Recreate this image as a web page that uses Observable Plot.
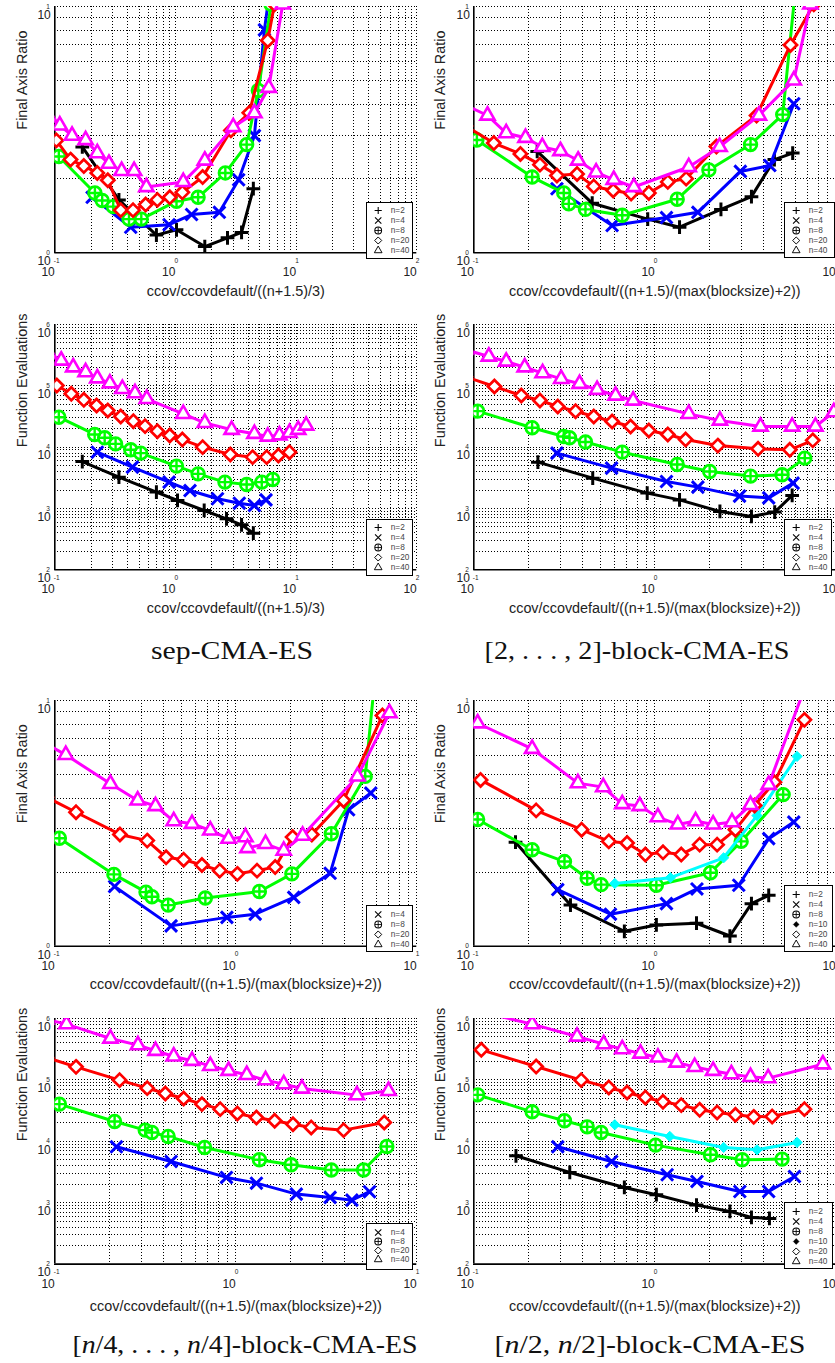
<!DOCTYPE html>
<html><head><meta charset="utf-8">
<script src="https://cdn.jsdelivr.net/npm/d3@7"></script>
<script src="https://cdn.jsdelivr.net/npm/@observablehq/plot@0.6"></script>
<style>
body{margin:0;background:#fff;}
#root{position:relative;width:835px;height:1363px;overflow:hidden;background:#fff;font-family:"Liberation Sans",Arial,sans-serif;}
.panel{position:absolute;}
.legend{position:absolute;border:1.3px solid #000;background:#fff;box-sizing:border-box;}
.legend svg{display:block;}
</style></head><body><div id="root"></div>
<script>
// ---------------- data ----------------
const xLabelSep = "ccov/ccovdefault/((n+1.5)/3)";
const xLabelBlock = "ccov/ccovdefault/((n+1.5)/(max(blocksize)+2))";
const yLabelRatio = "Final Axis Ratio";
const yLabelEvals = "Function Evaluations";
const xExpWide = [-1, 0, 1, 2];
const xExpNarrow = [-1, 0, 1];
const yExpRatio = [0, 1];
const yExpEvals = [2, 3, 4, 5, 6];
const titleSep = [["sep-CMA-ES", false]];
const titleTwo = [["[2, . . . , 2]-block-CMA-ES", false]];
const titleQuarter = [["[", false], ["n", true], ["/4, . . . , ", false], ["n", true], ["/4]-block-CMA-ES", false]];
const titleHalf = [["[", false], ["n", true], ["/2, ", false], ["n", true], ["/2]-block-CMA-ES", false]];

// sep-CMA-ES, final axis ratio
const sepRatio_n2 = [[0.169,2.69],[0.340,1.64],[0.695,1.18],[1.02,1.24],[1.75,1.06],[2.70,1.15],[3.53,1.21],[4.42,1.82]];
const sepRatio_n4 = [[0.204,1.68],[0.426,1.27],[0.885,1.30],[1.36,1.43],[2.31,1.46],[3.34,1.98],[4.51,2.99],[5.46,8.04],[6.0,11.3]];
const sepRatio_n8 = [[0.108,2.46],[0.215,1.75],[0.247,1.63],[0.305,1.54],[0.412,1.37],[0.521,1.37],[1.02,1.62],[1.54,1.68],[2.59,2.11],[3.89,2.75],[4.86,4.56],[6.2,10.2]];
const sepRatio_n20 = [[0.103,2.86],[0.135,2.39],[0.174,2.25],[0.225,2.11],[0.275,1.97],[0.352,1.49],[0.445,1.49],[0.566,1.57],[0.708,1.64],[0.897,1.68],[1.14,1.76],[1.68,2.03],[2.88,3.14],[4.09,3.70],[5.82,7.28],[6.61,10.2]];
const sepRatio_n40 = [[0.09,3.55],[0.110,3.29],[0.139,2.99],[0.180,2.87],[0.225,2.54],[0.281,2.30],[0.358,2.15],[0.454,2.15],[0.574,1.85],[1.16,1.94],[1.75,2.37],[3.01,3.24],[4.51,3.69],[5.93,4.68],[7.74,10.2]];

// [2,...,2]-block, final axis ratio
const twoRatio_n2 = [[0.224,2.58],[0.451,1.59],[0.914,1.37],[1.37,1.27],[2.32,1.50],[3.42,1.69],[4.58,2.39],[5.78,2.54]];
const twoRatio_n4 = [[0.288,1.82],[0.581,1.29],[1.16,1.39],[1.73,1.46],[2.97,2.14],[4.32,2.26],[5.86,4.03]];
const twoRatio_n8 = [[0.104,2.87],[0.210,2.03],[0.314,1.75],[0.335,1.58],[0.414,1.50],[0.661,1.42],[1.33,1.65],[1.99,2.17],[3.38,2.75],[5.09,3.64],[6.0,12]];
const twoRatio_n20 = [[0.09,3.27],[0.129,2.79],[0.181,2.52],[0.232,2.28],[0.288,2.06],[0.372,2.09],[0.460,1.86],[0.589,1.79],[0.740,1.74],[0.927,1.75],[1.18,1.94],[1.49,2.00],[2.19,2.70],[3.65,3.61],[5.62,6.98],[7.56,10.2]];
const twoRatio_n40 = [[0.09,3.98],[0.119,3.61],[0.151,3.06],[0.193,2.93],[0.239,2.69],[0.301,2.59],[0.377,2.37],[0.474,2.12],[0.593,1.98],[0.766,1.85],[1.54,2.23],[2.28,2.69],[3.76,3.61],[5.86,5.01],[7.24,10.2]];

// sep-CMA-ES, function evaluations
const sepEvals_n2 = [[0.169,5830],[0.340,3240],[0.695,1850],[1.04,1350],[1.73,927],[2.65,679],[3.53,542],[4.42,396]];
const sepEvals_n4 = [[0.225,8280],[0.440,4720],[0.885,2690],[1.32,1960],[2.23,1440],[3.38,1220],[4.51,1120],[5.63,1380]];
const sepEvals_n8 = [[0.108,30800],[0.214,16100],[0.259,14200],[0.319,11300],[0.426,9050],[0.515,7980],[1.02,4900],[1.54,3670],[2.57,2690],[3.89,2460],[5.19,2690],[6.40,2970]];
const sepEvals_n20 = [[0.104,101000],[0.137,74100],[0.174,59100],[0.222,47800],[0.275,39600],[0.352,31600],[0.448,26500],[0.560,22000],[0.708,18200],[0.897,15500],[1.14,13300],[1.68,10000],[2.85,7590],[4.36,6870],[5.70,6870],[7.13,7310],[8.81,8280]];
const sepEvals_n40 = [[0.09,327000],[0.113,259000],[0.142,201000],[0.180,167000],[0.225,133000],[0.286,110000],[0.363,89300],[0.462,75900],[0.578,61400],[1.16,34900],[1.75,24900],[2.92,19200],[4.51,16500],[5.82,14900],[7.27,15600],[8.81,17100],[10.4,19200],[12.1,22500]];

// [2,...,2]-block, function evaluations
const twoEvals_n2 = [[0.226,5690],[0.454,3120],[0.908,1780],[1.37,1380],[2.29,893],[3.42,741],[4.60,872],[5.74,1630]];
const twoEvals_n4 = [[0.288,7980],[0.577,4550],[1.16,2750],[1.73,2230],[2.94,1590],[4.26,1490],[5.81,2590]];
const twoEvals_n8 = [[0.105,38600],[0.210,20700],[0.314,14900],[0.338,14200],[0.414,12100],[0.661,8280],[1.33,5210],[2.01,4010],[3.38,3370],[5.05,3540],[6.74,6620]];
const twoEvals_n20 = [[0.09,141000],[0.130,97500],[0.183,69500],[0.232,57700],[0.291,46000],[0.365,38600],[0.460,31600],[0.581,26200],[0.735,21700],[0.927,18700],[1.18,16100],[1.48,13300],[2.23,10600],[3.72,9390],[5.57,9050],[7.46,12900]];
const twoEvals_n40 = [[0.09,387000],[0.121,301000],[0.151,249000],[0.191,201000],[0.240,161000],[0.304,130000],[0.384,108000],[0.480,86100],[0.607,69500],[0.759,57700],[1.54,34900],[2.29,27200],[3.84,21700],[5.74,21700],[7.72,21700],[9.75,37200]];

// [n/4,...,n/4]-block, final axis ratio
const quarRatio_n4 = [[0.214,1.75],[0.439,1.21],[0.893,1.31],[1.28,1.35],[2.09,1.58],[3.32,1.98],[4.20,3.59],[5.57,4.20]];
const quarRatio_n8 = [[0.106,2.75],[0.212,1.96],[0.319,1.66],[0.344,1.59],[0.423,1.47],[0.679,1.57],[1.35,1.67],[2.04,1.97],[3.37,2.87],[5.19,4.91],[5.85,12]];
const quarRatio_n20 = [[0.09,4.04],[0.131,3.51],[0.229,2.85],[0.324,2.69],[0.412,2.30],[0.515,2.25],[0.650,2.14],[0.815,2.03],[1.02,1.97],[1.31,2.03],[1.65,2.10],[2.06,2.78],[2.63,2.85],[3.94,3.92],[6.46,8.69]];
const quarRatio_n40 = [[0.09,6.64],[0.115,6.01],[0.203,4.58],[0.287,3.92],[0.360,3.72],[0.454,3.23],[0.573,3.15],[0.723,2.96],[0.912,2.74],[1.13,2.78],[1.16,2.51],[1.46,2.61],[1.84,2.45],[2.34,2.82],[4.70,4.91],[7.06,8.88]];

// [n/2,n/2]-block, final axis ratio
const halfRatio_n2 = [[0.170,2.65],[0.342,1.47],[0.679,1.15],[1.02,1.22],[1.70,1.24],[2.60,1.10],[3.42,1.49],[4.26,1.61]];
const halfRatio_n4 = [[0.291,1.70],[0.569,1.35],[1.16,1.49],[1.71,1.71],[2.91,1.77],[4.26,2.74],[5.86,3.20]];
const halfRatio_n8 = [[0.105,3.28],[0.210,2.47],[0.317,2.21],[0.423,1.89],[0.505,1.78],[1.02,1.77],[2.03,1.99],[3.00,2.67],[5.12,4.14]];
const halfRatio_n10 = [[0.601,1.80],[1.22,1.90],[2.40,2.29],[3.67,3.40],[6.11,5.92]];
const halfRatio_n20 = [[0.109,4.75],[0.221,3.57],[0.394,2.98],[0.557,2.67],[0.703,2.63],[0.887,2.36],[1.11,2.41],[1.40,2.36],[1.77,2.59],[2.21,2.59],[2.79,2.98],[3.56,3.74],[4.58,4.65],[6.71,8.34]];
const halfRatio_n40 = [[0.105,8.08],[0.210,6.36],[0.376,4.61],[0.519,4.44],[0.661,3.79],[0.826,3.72],[1.04,3.35],[1.34,3.13],[1.68,3.23],[2.10,3.13],[2.67,3.20],[3.38,3.76],[4.26,4.54],[6.6,10.8]];

// [n/4,...,n/4]-block, function evaluations
const quarEvals_n4 = [[0.219,8130],[0.439,4690],[0.888,2580],[1.30,2080],[2.16,1380],[3.32,1220],[4.38,1100],[5.48,1510]];
const quarEvals_n8 = [[0.106,40300],[0.214,21000],[0.316,15200],[0.344,13900],[0.423,12000],[0.673,7940],[1.35,5000],[2.02,4140],[3.37,3400],[5.08,3400],[6.83,8240]];
const quarEvals_n20 = [[0.09,232000],[0.131,163000],[0.228,99100],[0.324,73400],[0.408,60100],[0.515,49800],[0.650,40300],[0.820,33400],[1.02,28400],[1.30,24400],[1.64,21600],[2.07,19000],[2.61,16800],[3.94,15200],[6.61,20300]];
const quarEvals_n40 = [[0.09,959000],[0.116,809000],[0.203,472000],[0.288,368000],[0.360,298000],[0.454,241000],[0.573,205000],[0.723,169000],[0.912,141000],[1.15,121000],[1.46,99100],[1.84,85300],[2.32,72400],[4.67,56500],[6.98,66400]];

// [n/2,n/2]-block, function evaluations
const halfEvals_n2 = [[0.171,5810],[0.339,3110],[0.679,1770],[1.02,1350],[1.70,914],[2.60,721],[3.42,575],[4.30,555]];
const halfEvals_n4 = [[0.291,8130],[0.577,4690],[1.17,2850],[1.71,2220],[2.95,1520],[4.26,1520],[5.91,2670]];
const halfEvals_n8 = [[0.105,57100],[0.210,30200],[0.317,21600],[0.423,17200],[0.505,13900],[1.01,8660],[2.03,6030],[3.04,5000],[5.05,5130]];
const halfEvals_n10 = [[0.601,18600],[1.21,12000],[2.40,7940],[3.67,7270],[6.11,9570]];
const halfEvals_n20 = [[0.110,309000],[0.221,165000],[0.392,99100],[0.557,75300],[0.703,62400],[0.887,51800],[1.11,44000],[1.40,38800],[1.77,32600],[2.21,29500],[2.79,27000],[3.52,25000],[4.45,25400],[6.71,33400]];
const halfEvals_n40 = [[0.10,1370000],[0.210,809000],[0.372,509000],[0.522,382000],[0.661,317000],[0.834,269000],[1.04,232000],[1.32,192000],[1.66,163000],[2.10,141000],[2.65,124000],[3.38,112000],[4.23,107000],[8.48,180000]];

// ---------------- styles ----------------
const STYLE = {
  2: {color: "#000000", sym: "plus"},
  4: {color: "#0000ff", sym: "times"},
  8: {color: "#00ff00", sym: "oplus"},
  10: {color: "#00ffff", sym: "fdiamond"},
  20: {color: "#ff0000", sym: "diamond"},
  40: {color: "#ff00ff", sym: "triangle"}
};
const FONT = "'Liberation Sans', Arial, Helvetica, sans-serif";

function symbolMarks(data, n, acc, big) {
  const st = STYLE[n];
  const col = big ? st.color : "#000";
  const f = big ? 1 : 0.54;
  const w = big ? 1 : 0.36;
  const hollow = big ? "white" : "none";
  const c = big ? {...acc, clip: true} : {...acc};
  switch (st.sym) {
    case "plus": return [Plot.dot(data, {...c, symbol: "plus", r: 4.5 * f, stroke: col, strokeWidth: 3 * w})];
    case "times": return [Plot.dot(data, {...c, symbol: "times", r: 5.5 * f, stroke: col, strokeWidth: 3 * w})];
    case "oplus": return [
      Plot.dot(data, {...c, symbol: "circle", r: 6.3 * f, stroke: col, strokeWidth: 2.8 * w, fill: hollow}),
      Plot.dot(data, {...c, symbol: "plus", r: 4.1 * f, stroke: col, strokeWidth: 2.4 * w})];
    case "diamond": return [Plot.dot(data, {...c, symbol: "diamond2", r: 5.9 * f, stroke: col, strokeWidth: 2.7 * w, fill: hollow})];
    case "triangle": return [Plot.dot(data, {...c, symbol: "triangle2", r: 6.8 * f, stroke: col, strokeWidth: 2.6 * w, fill: hollow})];
    case "fdiamond": return [Plot.dot(data, {...c, symbol: "diamond2", r: big ? 4.6 : 2.6, stroke: col, strokeWidth: big ? 1 : 0.5, fill: col})];
  }
  return [];
}

const root = document.getElementById("root");

function buildPanel(p) {
  const div = document.createElement("div");
  div.className = "panel";
  Object.assign(div.style, {left: p.left + "px", top: p.top + "px", width: p.width + "px", height: p.height + "px"});
  const xDomain = [10 ** p.xExp[0], 10 ** p.xExp[p.xExp.length - 1]];
  const yDomain = [10 ** p.yExp[0], 10 ** p.yExp[p.yExp.length - 1]];
  const gridX = d3.scaleLog().domain(xDomain).ticks();
  const gridY = d3.scaleLog().domain(yDomain).ticks();
  const gridStyle = {stroke: "#000", strokeWidth: 1, strokeDasharray: "1,2", shapeRendering: "crispEdges"};
  const marks = [
    Plot.ruleX(gridX, gridStyle),
    Plot.ruleY(gridY, gridStyle),
    Plot.ruleX([xDomain[0]], {stroke: "#000", strokeWidth: 1.6}),
    Plot.ruleY([yDomain[0]], {stroke: "#000", strokeWidth: 1.6})
  ];
  const acc = {x: d => d[0], y: d => d[1]};
  for (const [n, data] of p.series) {
    marks.push(Plot.line(data, {...acc, stroke: STYLE[n].color, strokeWidth: 3, clip: true}));
    marks.push(...symbolMarks(data, n, acc, true));
  }
  // tick labels (base "10" and raised exponent); exponents beyond the page edge are not drawn
  const xExpShown = p.xExp.filter(e => p.left + p.mL + (p.width - p.mL - p.mR) * (e - p.xExp[0]) / (p.xExp[p.xExp.length - 1] - p.xExp[0]) < 830);
  marks.push(Plot.text(xExpShown, {x: e => 10 ** e, text: e => String(e), frameAnchor: "bottom", dy: 10, dx: -1, textAnchor: "start", fontSize: 6.5, fill: "#222"}));
  marks.push(Plot.text(p.xExp, {x: e => 10 ** e, text: () => "10", frameAnchor: "bottom", dy: 23.5, dx: 0, textAnchor: "end", fontSize: 12, fill: "#222"}));
  marks.push(Plot.text(p.yExp, {y: e => 10 ** e, text: e => String(e), frameAnchor: "left", dx: -5, textAnchor: "end", fontSize: 6.5, fill: "#222"}));
  marks.push(Plot.text(p.yExp, {y: e => 10 ** e, text: () => "10", frameAnchor: "left", dx: -4, dy: 8.5, textAnchor: "end", fontSize: 12, fill: "#222"}));
  // axis labels
  marks.push(Plot.text([p.xLabel], {text: d => d, frameAnchor: "bottom", dy: p.xLabelDy, fontSize: 14.4, fill: "#222"}));
  marks.push(Plot.text([p.yLabel], {text: d => d, frameAnchor: "left", rotate: -90, dx: p.yLabelDx, fontSize: 14.4, fill: "#222"}));

  const chart = Plot.plot({
    width: p.width, height: p.height,
    marginLeft: p.mL, marginRight: p.mR, marginTop: p.mT, marginBottom: p.mB,
    x: {type: "log", domain: xDomain, axis: null},
    y: {type: "log", domain: yDomain, axis: null},
    style: {background: "transparent", overflow: "visible", fontFamily: FONT},
    marks
  });
  div.appendChild(chart);
  root.appendChild(div);

  // legend
  const [bl, bt, bw, bh, rt, rb] = p.legendBox;
  const lg = document.createElement("div");
  lg.className = "legend";
  Object.assign(lg.style, {left: bl + "px", top: bt + "px", width: bw + "px", height: bh + "px"});
  const iw = bw - 2.6, ih = bh - 2.6;
  const entries = p.series.map(([n]) => ({n, label: "n=" + n}));
  const lmarks = [];
  for (const e of entries) {
    lmarks.push(...symbolMarks([e], e.n, {x: () => 10.7, y: d => d.label}, false));
  }
  lmarks.push(Plot.text(entries, {x: () => 23.2, y: d => d.label, text: d => d.label, textAnchor: "start", fontSize: 8.3, fill: "#444"}));
  const lchart = Plot.plot({
    width: iw, height: ih, marginLeft: 0, marginRight: 0, marginTop: rt - 1.3, marginBottom: rb - 1.3,
    x: {type: "linear", domain: [0, iw], range: [0, iw], axis: null},
    y: {type: "point", domain: entries.map(d => d.label), padding: 0, axis: null},
    style: {background: "transparent", overflow: "visible", fontFamily: FONT},
    marks: lmarks
  });
  lg.appendChild(lchart);
  root.appendChild(lg);
}

const L = {left: 0, width: 420, mL: 54.3, mR: 3.7, yLabelDx: -32.6};
const R = {left: 420, width: 415.3, mL: 53.3, mR: 0, yLabelDx: -33.3};
const panels = [
  {...L, top: 0, height: 310, mT: 6, mB: 57.7, xExp: xExpWide, yExp: yExpRatio, xLabel: xLabelSep, yLabel: yLabelRatio, xLabelDy: 43,
   series: [[2, sepRatio_n2], [4, sepRatio_n4], [8, sepRatio_n8], [20, sepRatio_n20], [40, sepRatio_n40]], legendBox: [366, 201.7, 47, 57.3, 8.3, 8.3]},
  {...R, top: 0, height: 310, mT: 6, mB: 57.7, xExp: xExpNarrow, yExp: yExpRatio, xLabel: xLabelBlock, yLabel: yLabelRatio, xLabelDy: 43,
   series: [[2, twoRatio_n2], [4, twoRatio_n4], [8, twoRatio_n8], [20, twoRatio_n20], [40, twoRatio_n40]], legendBox: [784.3, 201.7, 50.7, 56.6, 8.3, 7.6]},
  {...L, top: 318, height: 310, mT: 6, mB: 58.7, xExp: xExpWide, yExp: yExpEvals, xLabel: xLabelSep, yLabel: yLabelEvals, xLabelDy: 43,
   series: [[2, sepEvals_n2], [4, sepEvals_n4], [8, sepEvals_n8], [20, sepEvals_n20], [40, sepEvals_n40]], legendBox: [366, 519, 47, 56.7, 7.7, 7.4]},
  {...R, top: 318, height: 310, mT: 6, mB: 58.7, xExp: xExpNarrow, yExp: yExpEvals, xLabel: xLabelBlock, yLabel: yLabelEvals, xLabelDy: 43,
   series: [[2, twoEvals_n2], [4, twoEvals_n4], [8, twoEvals_n8], [20, twoEvals_n20], [40, twoEvals_n40]], legendBox: [784.3, 519, 48, 56.7, 7.7, 7.4]},
  {...L, top: 694, height: 310, mT: 6, mB: 58.3, xExp: xExpNarrow, yExp: yExpRatio, xLabel: xLabelBlock, yLabel: yLabelRatio, xLabelDy: 43,
   series: [[4, quarRatio_n4], [8, quarRatio_n8], [20, quarRatio_n20], [40, quarRatio_n40]], legendBox: [366, 905, 47, 46.7, 9.3, 7.4]},
  {...R, top: 694, height: 310, mT: 6, mB: 58.3, xExp: xExpNarrow, yExp: yExpRatio, xLabel: xLabelBlock, yLabel: yLabelRatio, xLabelDy: 43,
   series: [[2, halfRatio_n2], [4, halfRatio_n4], [8, halfRatio_n8], [10, halfRatio_n10], [20, halfRatio_n20], [40, halfRatio_n40]], legendBox: [784.3, 885, 49, 67.3, 9, 8]},
  {...L, top: 1011.7, height: 310, mT: 6, mB: 58.4, xExp: xExpNarrow, yExp: yExpEvals, xLabel: xLabelBlock, yLabel: yLabelEvals, xLabelDy: 47,
   series: [[4, quarEvals_n4], [8, quarEvals_n8], [20, quarEvals_n20], [40, quarEvals_n40]], legendBox: [366, 1222.7, 47, 47.3, 8.3, 9]},
  {...R, top: 1011.7, height: 310, mT: 6, mB: 58.4, xExp: xExpNarrow, yExp: yExpEvals, xLabel: xLabelBlock, yLabel: yLabelEvals, xLabelDy: 47,
   series: [[2, halfEvals_n2], [4, halfEvals_n4], [8, halfEvals_n8], [10, halfEvals_n10], [20, halfEvals_n20], [40, halfEvals_n40]], legendBox: [784.3, 1201.7, 49, 67.6, 8.3, 7.7]}
];
panels.forEach(buildPanel);

// captions under each column pair
const tsvg = d3.select(root).append("svg")
  .attr("width", 835).attr("height", 1363)
  .style("position", "absolute").style("left", "0px").style("top", "0px").style("pointer-events", "none");
function caption(parts, cx, y, len) {
  const t = tsvg.append("text").attr("x", cx).attr("y", y).attr("text-anchor", "middle")
    .attr("font-family", "'Liberation Serif', 'DejaVu Serif', serif").attr("font-size", 26).attr("fill", "#111")
    .attr("textLength", len).attr("lengthAdjust", "spacingAndGlyphs");
  for (const [s, it] of parts) {
    const ts = t.append("tspan").text(s);
    if (it) ts.attr("font-style", "italic");
  }
}
caption(titleSep, 232, 659, 162);
caption(titleTwo, 637, 659, 305);
caption(titleQuarter, 245, 1353, 345);
caption(titleHalf, 650, 1353, 311);
</script></body></html>
